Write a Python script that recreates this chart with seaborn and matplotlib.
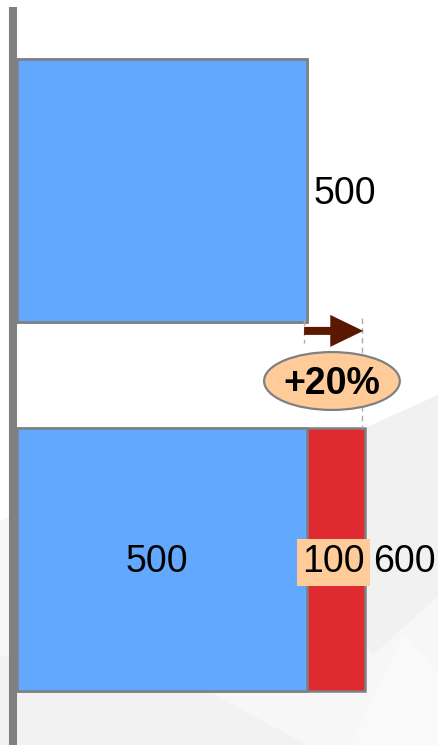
import matplotlib
matplotlib.use("Agg")
import matplotlib.pyplot as plt
from matplotlib.patches import Ellipse, Polygon, FancyArrowPatch
from matplotlib.lines import Line2D
import seaborn as sns
import pandas as pd

# ---- data ----
categories = ["Before", "After"]
base_values = [500, 500]
increase_values = [0, 100]
total_values = [500, 600]
base_labels = ["500", "500"]
increase_label = "100"
total_label = "600"
change_label = "+20%"

sns.set_theme(style="white")
plt.rcParams["font.family"] = ["Liberation Sans", "DejaVu Sans"]

W, H = 438, 745
fig = plt.figure(figsize=(W / 100, H / 100), dpi=100)
fig.patch.set_facecolor("white")

# faint decorative background polygons (figure coords)
bg_polys = [
    ([(0.0, 0.0), (0.0, 0.30), (0.35, 0.42), (0.75, 0.37), (1.0, 0.47), (1.0, 0.0)], "#f7f7f7"),
    ([(0.55, 0.35), (1.0, 0.47), (1.0, 0.20), (0.85, 0.12)], "#f1f1f1"),
    ([(0.0, 0.0), (0.0, 0.12), (0.45, 0.08), (0.70, 0.0)], "#f2f2f2"),
    ([(0.80, 0.0), (0.92, 0.15), (1.0, 0.10), (1.0, 0.0)], "#f9f9f9"),
]
for pts, col in bg_polys:
    fig.add_artist(Polygon(pts, closed=True, facecolor=col, edgecolor="none",
                           transform=fig.transFigure, zorder=0))

x0 = 17
ax = fig.add_axes([x0 / W, 0, (W - x0) / W, 1])
ax.patch.set_alpha(0)

df = pd.DataFrame({"cat": categories, "base": base_values,
                   "inc": increase_values, "total": total_values})

bar_w = 263 / 368.5
edge = "#808080"
sns.barplot(data=df, y="cat", x="total", orient="h", color="#DE2A30",
            width=bar_w, saturation=1, edgecolor=edge, linewidth=1.8, ax=ax)
sns.barplot(data=df, y="cat", x="base", orient="h", color="#62A8FF",
            width=bar_w, saturation=1, edgecolor=edge, linewidth=1.8, ax=ax)

px = 0.58  # pixels per data unit
ax.set_xlim(0, (W - x0) / px)
ax.set_ylim(1 + (H - 559) / 368.5, -190.5 / 368.5)
ax.axis("off")

fs = 27
dy = 0.009
# labels
ax.text(base_values[0] + 12, 0 + dy, base_labels[0], ha="left", va="center", fontsize=fs, color="black")
ax.text(base_values[1] / 2 - 9, 1 + dy, base_labels[1], ha="center", va="center", fontsize=fs, color="black")
ax.text(base_values[1] + increase_values[1] / 2 - 4, 1 + dy, increase_label, ha="center", va="center",
        fontsize=fs, color="black",
        bbox=dict(boxstyle="square,pad=0.14", facecolor="#FFCC99", edgecolor="none"))
ax.text(total_values[1] + 14, 1 + dy, total_label, ha="left", va="center", fontsize=fs, color="black",
        clip_on=False)

# dashed guide lines
ax.plot([495, 495], [0.351, 0.414], ls=(0, (4, 3)), color="#aaaaaa", lw=1)
ax.plot([595, 595], [0.346, 0.645], ls=(0, (4, 3)), color="#aaaaaa", lw=1)

# arrow
arr = FancyArrowPatch((495, 0.381), (597, 0.381),
                      arrowstyle="simple,tail_width=0.4,head_width=1.6,head_length=1.65",
                      mutation_scale=14.4, color="#5A1800", lw=0,
                      shrinkA=0, shrinkB=0, zorder=5)
ax.add_patch(arr)

# ellipse with percent change
ell = Ellipse((543, 0.517), 234, 0.157, facecolor="#FFCC99", edgecolor="#808080", lw=1.6, zorder=4)
ax.add_patch(ell)
ax.text(543, 0.525, change_label, ha="center", va="center", fontsize=fs, fontweight="bold",
        color="black", zorder=5)

# vertical axis line
fig.add_artist(Line2D([13 / W, 13 / W], [0, 1 - 7 / H], color="#808080", lw=5.8,
                      transform=fig.transFigure, solid_capstyle="butt"))

fig.savefig("out.png", dpi=100)
